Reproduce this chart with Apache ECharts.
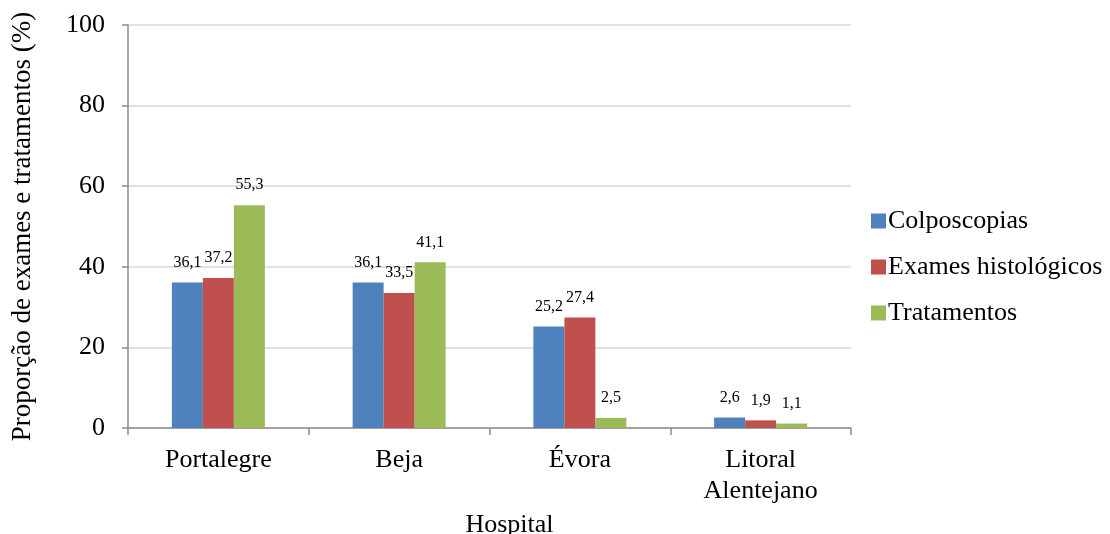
<!DOCTYPE html>
<html>
<head>
<meta charset="utf-8">
<script src="https://cdn.jsdelivr.net/npm/echarts@6/dist/echarts.min.js"></script>
<style>
  html, body { margin: 0; padding: 0; background: #fff; }
  #chart { width: 1110px; height: 534px; }
</style>
</head>
<body>
<div id="chart"></div>
<script>
// Hospitals on the category axis
const hospitals = ['Portalegre', 'Beja', 'Évora', 'Litoral\nAlentejano'];

// Percentages per hospital
const colposcopias = [36.1, 36.1, 25.2, 2.6];
const examesHistologicos = [37.2, 33.5, 27.4, 1.9];
const tratamentos = [55.3, 41.1, 2.5, 1.1];

const yTicks = { min: 0, max: 100, interval: 20 };

const serif = '"Liberation Serif", "Times New Roman", serif';
const fmt = p => p.value.toFixed(1).replace('.', ',');

function barSeries(name, data, color) {
  return {
    name: name,
    type: 'bar',
    data: data,
    barWidth: 31,
    barGap: '0%',
    itemStyle: { color: color },
    label: {
      show: true,
      position: 'top',
      distance: 12,
      formatter: fmt,
      fontFamily: serif,
      fontSize: 16,
      color: '#000'
    }
  };
}

const chart = echarts.init(document.getElementById('chart'));
chart.setOption({
  animation: false,
  textStyle: { fontFamily: serif },
  grid: {
    left: 128, right: 259, top: 25, bottom: 106,
    containLabel: false,
    outerBoundsMode: 'none'
  },
  legend: {
    orient: 'vertical',
    left: 866,
    top: 203,
    itemWidth: 15,
    itemHeight: 15,
    itemGap: 20,
    icon: 'rect',
    textStyle: { fontFamily: serif, fontSize: 26, color: '#000', padding: [0, 0, 0, -3] },
    data: ['Colposcopias', 'Exames histológicos', 'Tratamentos']
  },
  xAxis: {
    type: 'category',
    data: hospitals,
    name: 'Hospital',
    nameLocation: 'middle',
    nameGap: 78,
    nameTextStyle: { fontFamily: serif, fontSize: 26, color: '#000', padding: [0, 0, 0, 40] },
    axisLine: { lineStyle: { color: '#8c8c8c', width: 1.5 } },
    axisTick: { show: true, length: 7, alignWithLabel: false, lineStyle: { color: '#8c8c8c', width: 1.5 } },
    axisLabel: { fontFamily: serif, fontSize: 26, color: '#000', margin: 17, lineHeight: 31 }
  },
  yAxis: {
    type: 'value',
    min: yTicks.min,
    max: yTicks.max,
    interval: yTicks.interval,
    name: 'Proporção de exames e tratamentos (%)',
    nameLocation: 'middle',
    nameGap: 92,
    nameTextStyle: { fontFamily: serif, fontSize: 27, color: '#000' },
    axisLine: { show: true, lineStyle: { color: '#8c8c8c', width: 1.5 } },
    axisTick: { show: true, length: 6, lineStyle: { color: '#8c8c8c', width: 1.5 } },
    axisLabel: { fontFamily: serif, fontSize: 26, color: '#000', margin: 23 },
    splitLine: { lineStyle: { color: '#d9d9d9', width: 1.5 } }
  },
  series: [
    barSeries('Colposcopias', colposcopias, '#4f81bd'),
    barSeries('Exames histológicos', examesHistologicos, '#c0504d'),
    barSeries('Tratamentos', tratamentos, '#9bbb59')
  ]
});
</script>
</body>
</html>
